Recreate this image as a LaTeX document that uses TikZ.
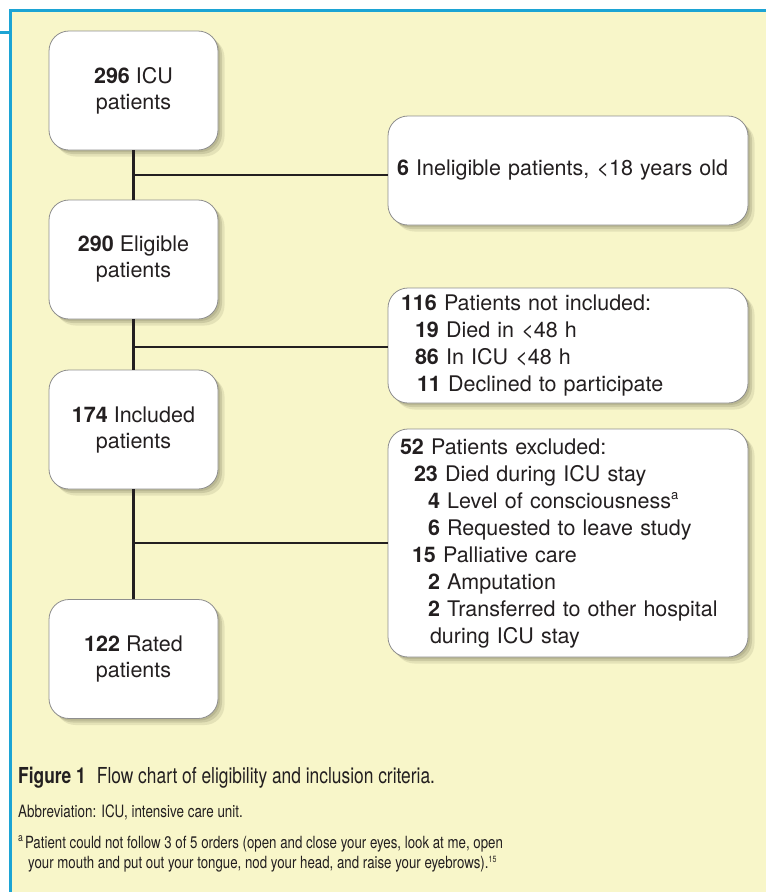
\documentclass[tikz,border=0pt]{standalone}
\usepackage{fontspec}
\setmainfont{TeX Gyre Heros}
\newfontfamily\capfont[FakeStretch=0.79]{TeX Gyre Heros}
\usetikzlibrary{shadows}
\definecolor{panel}{HTML}{F8F6C9}
\definecolor{edge}{HTML}{1CA4D4}
\definecolor{ink}{HTML}{231F20}
\definecolor{boxline}{HTML}{8E8E8E}
\definecolor{shade}{HTML}{6E6C50}
\tikzset{
  shadowed/.style={
    drop shadow={shadow xshift=2pt, shadow yshift=-2pt, opacity=0.2, fill=shade},
    drop shadow={shadow xshift=4pt, shadow yshift=-4pt, opacity=0.2, fill=shade},
    drop shadow={shadow xshift=6.5pt, shadow yshift=-6.5pt, opacity=0.14, fill=shade}},
  lbox/.style={draw=boxline, line width=0.8pt, fill=white, rounded corners=20pt,
    minimum width=169pt, minimum height=119pt, align=center, text=ink,
    font=\fontsize{21.5}{26}\selectfont, shadowed},
  rbox/.style={draw=boxline, line width=0.8pt, fill=white, rounded corners=20pt,
    minimum width=360pt, text width=342pt, inner xsep=9pt, align=left, text=ink,
    font=\fontsize{21.5}{27}\selectfont, shadowed},
  conn/.style={draw=ink, line width=3.2pt},
  branch/.style={draw=ink, line width=2.8pt},
  captext/.style={anchor=base west, inner sep=0pt, text=ink}
}
\newcommand{\supa}{\raisebox{9pt}{\fontsize{13}{13}\selectfont a}}
\begin{document}
\begin{tikzpicture}[x=1pt, y=-1pt]
\useasboundingbox (0,0) rectangle (766,892);
% panel
\fill[panel] (10,10.5) rectangle (766,892);
\draw[edge, line width=3pt] (10,892) -- (10,10.5) -- (766,10.5);
\draw[edge, line width=3pt] (0,32) -- (10,32);

% left boxes
\node[lbox] (b1) at (133.5,90.5) {\textbf{296} ICU\\patients};
\node[lbox] (b2) at (133.5,259.5) {\textbf{290} Eligible\\patients};
\node[lbox] (b3) at (133.5,429.5) {\textbf{174} Included\\patients};
\node[lbox] (b4) at (133.5,659) {\textbf{122} Rated\\patients};

% right boxes
\node[rbox, minimum height=109pt] (r1) at (568,170.5)
  {\textbf{6} Ineligible patients, <18 years old};
\node[rbox, minimum height=115pt] (r2) at (568,345.5)
  {\hspace*{4pt}\textbf{116} Patients not included:\\
   \hspace*{18pt}\textbf{19} Died in <48 h\\
   \hspace*{18pt}\textbf{86} In ICU <48 h\\
   \hspace*{20pt}\textbf{11} Declined to participate};
\node[rbox, minimum height=228pt] (r3) at (568,543)
  {\hspace*{3pt}\textbf{52} Patients excluded:\\
   \hspace*{17pt}\textbf{23} Died during ICU stay\\
   \hspace*{31pt}\textbf{4} Level of consciousness\supa\\
   \hspace*{31pt}\textbf{6} Requested to leave study\\
   \hspace*{15pt}\textbf{15} Palliative care\\
   \hspace*{31pt}\textbf{2} Amputation\\
   \hspace*{31pt}\textbf{2} Transferred to other hospital\\
   \hspace*{33pt}during ICU stay};

% connectors
\draw[conn] (b1) -- (b2);
\draw[conn] (b2) -- (b3);
\draw[conn] (b3) -- (b4);
\coordinate (j1) at (133.5,175);
\coordinate (j2) at (133.5,347);
\coordinate (j3) at (133.5,543);
\draw[branch] (j1) -- (j1 -| r1.west);
\draw[branch] (j2) -- (j2 -| r2.west);
\draw[branch] (j3) -- (j3 -| r3.west);

% caption
\node[captext, font=\capfont\fontsize{22}{25}\selectfont] (cap) at (18,783)
  {\textbf{Figure 1}\hspace{11pt}Flow chart of eligibility and inclusion criteria.};
\node[captext, font=\capfont\fontsize{17}{20}\selectfont] (abbr) at (18,817)
  {Abbreviation: ICU, intensive care unit.};
\node[captext, font=\capfont\fontsize{16.8}{20}\selectfont] (fn1) at (18,848)
  {\raisebox{7pt}{\fontsize{11}{11}\selectfont a}\hspace{2pt}Patient could not follow 3 of 5 orders (open and close your eyes, look at me, open};
\node[captext, font=\capfont\fontsize{16.8}{20}\selectfont] (fn2) at (28,868)
  {your mouth and put out your tongue, nod your head, and raise your eyebrows).\raisebox{6pt}{\fontsize{9}{9}\selectfont 15}};
\end{tikzpicture}
\end{document}
